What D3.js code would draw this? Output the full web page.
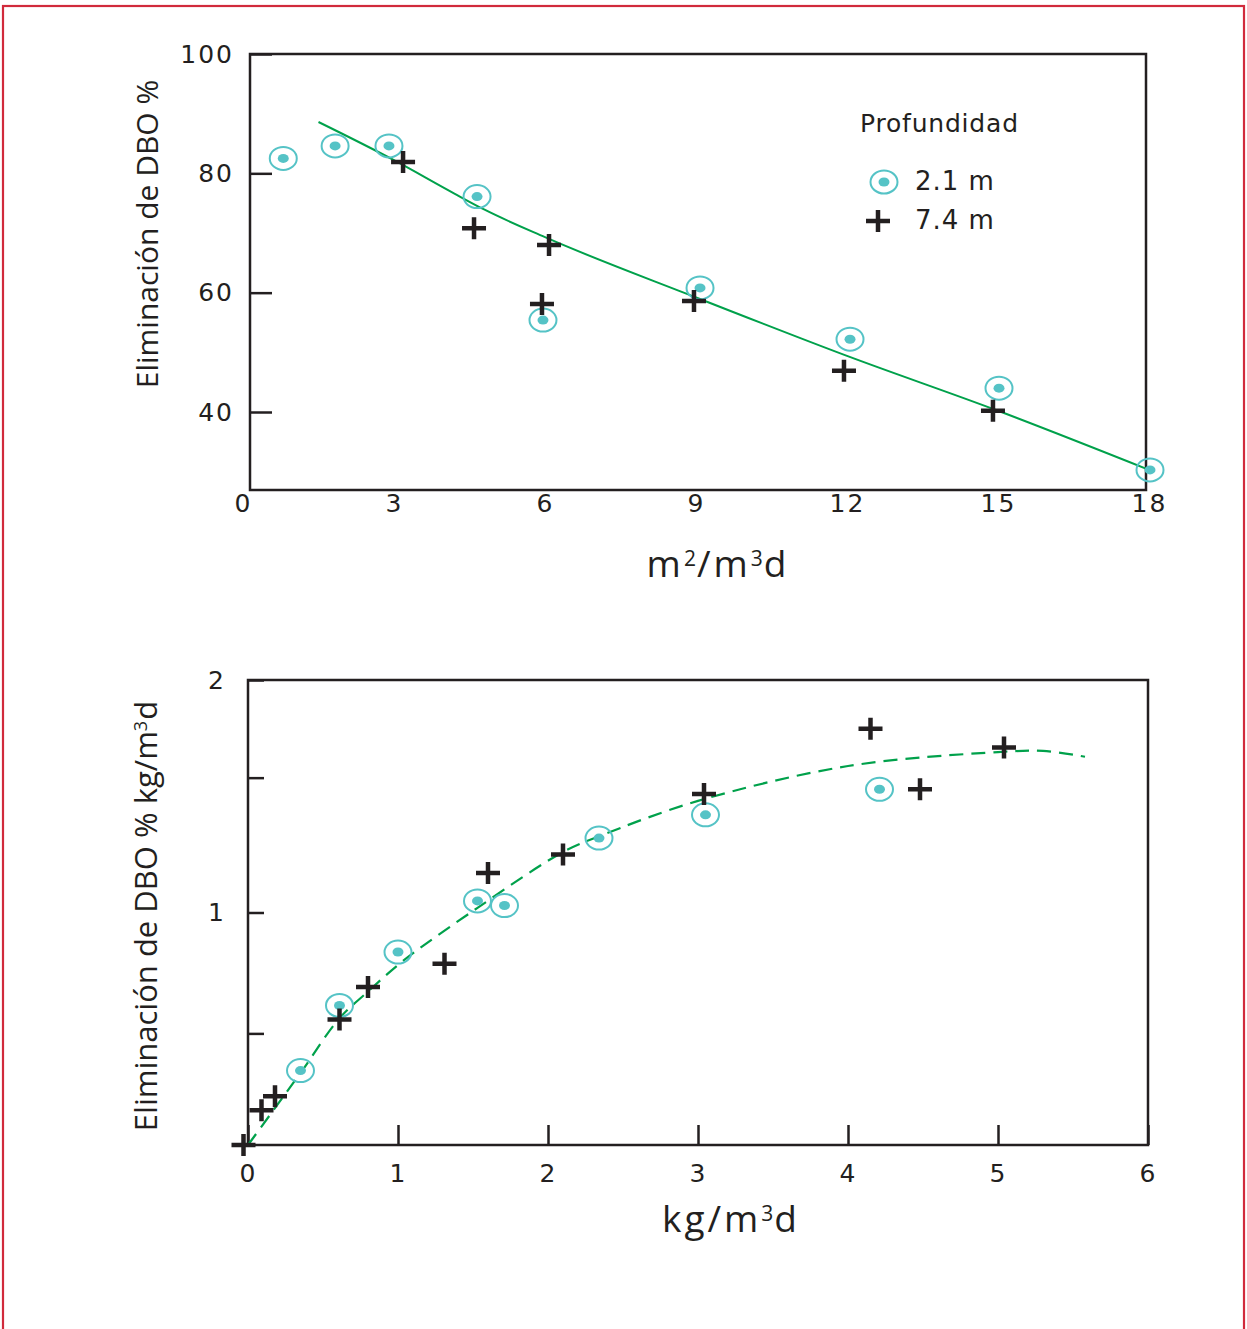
<!DOCTYPE html>
<html><head><meta charset="utf-8">
<script src="https://cdn.jsdelivr.net/npm/d3@7"></script>
<style>
html,body{margin:0;padding:0;background:#fff;}
svg{display:block;}
</style></head>
<body>
<svg id="chart" width="1247" height="1329"></svg>
<script>
// ---------- DATA ----------
// Top chart: DBO removal (%) vs hydraulic load m2/m3d
const topXTicks = [0, 3, 6, 9, 12, 15, 18];
const topYTicks = [40, 60, 80, 100];
const top21x = [0.8, 1.83, 2.9, 4.65, 5.96, 9.08, 12.06, 15.02, 18.02];
const top21y = [82.5, 84.6, 84.6, 76.1, 55.4, 60.8, 52.2, 44.0, 30.3];
const top74x = [3.18, 4.59, 6.08, 5.94, 8.96, 11.94, 14.9];
const top74y = [81.9, 70.8, 68.0, 58.1, 58.6, 46.9, 40.2];
const topFitX = [1.5, 3.0, 4.2, 4.8, 6.0, 9.0, 12.0, 15.0, 18.0];
const topFitY = [88.6, 82.2, 76.6, 73.9, 69.3, 59.2, 49.4, 40.2, 30.3];

// Bottom chart: DBO removal kg/m3d vs organic load kg/m3d
const botXTicks = [0, 1, 2, 3, 4, 5, 6];
const botYLabelTicks = [1, 2];
const botYMinorTicks = [0.48, 1.58];
const bot21x = [0.35, 0.61, 1.0, 1.53, 1.71, 2.34, 3.05, 4.21];
const bot21y = [0.32, 0.60, 0.83, 1.05, 1.03, 1.32, 1.42, 1.53];
const bot74x = [-0.03, 0.09, 0.18, 0.61, 0.80, 1.31, 1.60, 2.10, 3.04, 4.15, 4.48, 5.04];
const bot74y = [0.0, 0.15, 0.21, 0.54, 0.68, 0.78, 1.17, 1.25, 1.51, 1.79, 1.53, 1.71];
const botFitX = [0, 0.35, 0.61, 0.8, 1.03, 1.53, 2.1, 2.35, 3.0, 4.0, 5.0, 5.3, 5.58];
const botFitY = [0, 0.31, 0.545, 0.66, 0.79, 1.02, 1.26, 1.33, 1.48, 1.63, 1.69, 1.695, 1.67];

const legendTitle = "Profundidad";
const seriesNames = ["2.1 m", "7.4 m"];

// ---------- STYLE ----------
const INK = "#231f20", TEAL = "#55c3c6", GREEN = "#00a14b", RED = "#d12a3c";
const tickFont = "'DejaVu Sans', sans-serif";
const titleFont = "'Open Sans', sans-serif";

const svg = d3.select("#chart");

// page frame
svg.append("rect").attr("x", 3).attr("y", 6).attr("width", 1241).attr("height", 1340)
  .attr("fill", "none").attr("stroke", RED).attr("stroke-width", 2.2);

function drawCircleMarker(g, x, y) {
  g.append("ellipse").attr("cx", x).attr("cy", y).attr("rx", 13.5).attr("ry", 11.5)
    .attr("fill", "none").attr("stroke", TEAL).attr("stroke-width", 2);
  g.append("ellipse").attr("cx", x).attr("cy", y).attr("rx", 5.5).attr("ry", 4.5)
    .attr("fill", TEAL);
}
function drawCross(g, x, y) {
  g.append("path").attr("d", `M${x-12},${y}H${x+12}M${x},${y-11}V${y+11}`)
    .attr("stroke", INK).attr("stroke-width", 4.5).attr("fill", "none");
}
function styleAxis(sel, fs) {
  sel.select(".domain").remove();
  sel.selectAll(".tick line").attr("stroke", INK).attr("stroke-width", 2.5);
  sel.selectAll(".tick text").attr("fill", INK).style("font-family", tickFont)
    .style("font-size", fs + "px").style("letter-spacing", "2px");
}
// text with small superscripts: parts = [[text, isSup], ...]
function richText(t, parts, supSize, shift) {
  parts.forEach(([s, sup], i) => {
    const ts = t.append("tspan").text(s);
    if (sup) {
      ts.style("font-size", supSize + "px").style("letter-spacing", "1px").attr("dy", -shift);
    } else if (i > 0 && parts[i - 1][1]) {
      ts.attr("dy", shift);
    }
  });
}

// ================= TOP CHART =================
const xT = d3.scaleLinear().domain([0, 18]).range([243, 1149]);
const yT = d3.scaleLinear().domain([40, 100]).range([412, 54]);
const gT = svg.append("g");

const gTY = gT.append("g").attr("transform", "translate(250,0)")
  .call(d3.axisLeft(yT).tickValues(topYTicks).tickSize(-22).tickPadding(16));
styleAxis(gTY, 25);
const gTX = gT.append("g").attr("transform", "translate(0,490)")
  .call(d3.axisBottom(xT).tickValues(topXTicks).tickSize(0).tickPadding(4));
styleAxis(gTX, 25);

gT.append("rect").attr("x", 250).attr("y", yT(100)).attr("width", 896).attr("height", 490 - yT(100))
  .attr("fill", "none").attr("stroke", INK).attr("stroke-width", 2.5);

const lineT = d3.line().x((d, i) => xT(topFitX[i])).y((d, i) => yT(topFitY[i])).curve(d3.curveMonotoneX);
gT.append("path").attr("d", lineT(topFitX)).attr("fill", "none").attr("stroke", GREEN).attr("stroke-width", 2);

top21x.forEach((v, i) => drawCircleMarker(gT, xT(v), yT(top21y[i])));
top74x.forEach((v, i) => drawCross(gT, xT(v), yT(top74y[i])));

gT.append("text").attr("transform", "translate(158,234) rotate(-90)").attr("text-anchor", "middle")
  .style("font-family", titleFont).style("font-size", "30px").attr("fill", INK)
  .text("Eliminación de DBO %");
const tTx = gT.append("text").attr("x", 718).attr("y", 577).attr("text-anchor", "middle")
  .style("font-family", titleFont).style("font-size", "37px").attr("fill", INK)
  .style("letter-spacing", "3px");
richText(tTx, [["m", false], ["2", true], ["/m", false], ["3", true], ["d", false]], 21, 11);

// legend
const lg = gT.append("g");
lg.append("text").attr("x", 860).attr("y", 132).style("font-family", tickFont)
  .style("font-size", "25px").style("letter-spacing", "0.8px").attr("fill", INK).text(legendTitle);
drawCircleMarker(lg, 884, 182);
drawCross(lg, 878, 221);
lg.append("text").attr("x", 915).attr("y", 190).style("font-family", tickFont)
  .style("font-size", "26px").style("letter-spacing", "1px").attr("fill", INK).text(seriesNames[0]);
lg.append("text").attr("x", 915).attr("y", 229).style("font-family", tickFont)
  .style("font-size", "26px").style("letter-spacing", "1px").attr("fill", INK).text(seriesNames[1]);

// ================= BOTTOM CHART =================
const xB = d3.scaleLinear().domain([0, 6]).range([248, 1148]);
const yB = d3.scaleLinear().domain([0, 2]).range([1145, 680]);
const gB = svg.append("g");

const gBY = gB.append("g").attr("transform", "translate(248,0)")
  .call(d3.axisLeft(yB).tickValues(botYLabelTicks).tickSize(-16).tickPadding(22).tickFormat(d3.format("d")));
styleAxis(gBY, 25);
const gBY2 = gB.append("g").attr("transform", "translate(248,0)")
  .call(d3.axisLeft(yB).tickValues(botYMinorTicks).tickSize(-16).tickFormat(""));
styleAxis(gBY2, 25);
const gBX = gB.append("g").attr("transform", "translate(0,1145)")
  .call(d3.axisBottom(xB).tickValues(botXTicks).tickSize(-20).tickPadding(19).tickFormat(d3.format("d")));
styleAxis(gBX, 25);
gBX.selectAll(".tick text").attr("y", 19);

gB.append("rect").attr("x", 248).attr("y", 680).attr("width", 900).attr("height", 465)
  .attr("fill", "none").attr("stroke", INK).attr("stroke-width", 2.5);

const lineB = d3.line().x((d, i) => xB(botFitX[i])).y((d, i) => yB(botFitY[i])).curve(d3.curveCatmullRom.alpha(0.5));
gB.append("path").attr("d", lineB(botFitX)).attr("fill", "none").attr("stroke", GREEN)
  .attr("stroke-width", 2.2).attr("stroke-dasharray", "14,8");

bot21x.forEach((v, i) => drawCircleMarker(gB, xB(v), yB(bot21y[i])));
bot74x.forEach((v, i) => drawCross(gB, xB(v), yB(bot74y[i])));

const tBy = gB.append("text").attr("transform", "translate(157,916) rotate(-90)").attr("text-anchor", "middle")
  .style("font-family", titleFont).style("font-size", "31px").attr("fill", INK);
richText(tBy, [["Eliminación de DBO % kg/m", false], ["3", true], ["d", false]], 18, 10);
const tBx = gB.append("text").attr("x", 731).attr("y", 1232).attr("text-anchor", "middle")
  .style("font-family", titleFont).style("font-size", "37px").attr("fill", INK)
  .style("letter-spacing", "3px");
richText(tBx, [["kg/m", false], ["3", true], ["d", false]], 21, 11);
</script>
</body></html>
